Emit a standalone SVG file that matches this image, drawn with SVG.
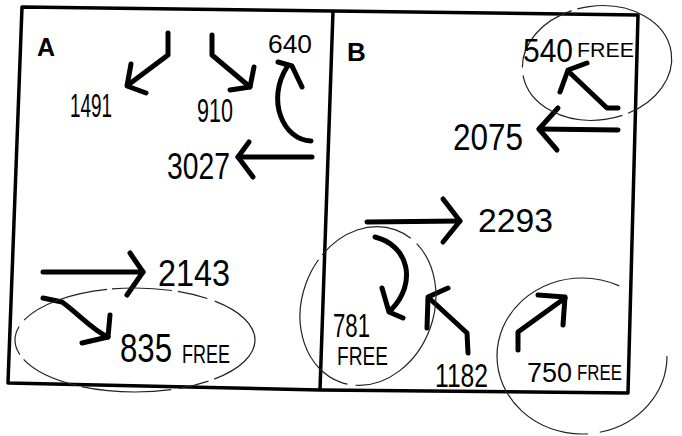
<svg xmlns="http://www.w3.org/2000/svg" width="682" height="436" viewBox="0 0 682 436">
<style>
.frame{fill:none;stroke:#000;stroke-width:3.5;stroke-linejoin:round}
.arr{fill:none;stroke:#000;stroke-width:5;stroke-linecap:round;stroke-linejoin:round}
.ring{fill:none;stroke:#222;stroke-width:1.2}
.hw{font-family:"Liberation Sans","DejaVu Sans",sans-serif;fill:#000}
.lbl{font-family:"Liberation Sans","DejaVu Sans",sans-serif;font-weight:bold;fill:#000}
</style>
<rect width="682" height="436" fill="#fff"/>
<g id="frame">
<path class="frame" d="M22,7 L333,11 L638,15 L628,393 L320,390 L8,383 Z"/>
<path class="frame" d="M333,11 L320,390"/>
</g>
<g id="panel-labels">
<text class="lbl" x="37" y="56" font-size="25">A</text>
<text class="lbl" x="347" y="61" font-size="26">B</text>
</g>
<g id="connectors">
<polyline class="arr" points="168,33 168,55 128,85"/>
<polyline class="arr" points="131,64 127,86 146,93"/>
<polyline class="arr" points="212,35 212,55 250,87"/>
<polyline class="arr" points="254,67 250,87 230,90"/>
<path class="arr" d="M311,141 C283,140 266,100 287,67"/>
<polyline class="arr" points="278,62 292,66 302,87"/>
<polyline class="arr" points="312,157 238,157"/>
<polyline class="arr" points="249,142 238,157 253,177"/>
<polyline class="arr" points="43,272 143,272"/>
<polyline class="arr" points="130,253 143,272 127,295"/>
<path class="arr" d="M43,298 L62,302 C80,315 92,330 108,337"/>
<polyline class="arr" points="110,315 108,337 82,343"/>
<polyline class="arr" points="618,108 607,108 568,71"/>
<polyline class="arr" points="560,92 568,70 587,63"/>
<polyline class="arr" points="618,130 539,129"/>
<polyline class="arr" points="558,108 539,129 557,150"/>
<polyline class="arr" points="367,222 460,221"/>
<polyline class="arr" points="443,199 460,221 443,242"/>
<path class="arr" d="M375,237 C408,245 418,282 391,310"/>
<polyline class="arr" points="382,288 389,312 403,318"/>
<polyline class="arr" points="468,353 467,333 429,298"/>
<polyline class="arr" points="427,328 428,297 448,288"/>
<polyline class="arr" points="518,350 518,332 565,298"/>
<polyline class="arr" points="538,295 565,297 563,325"/>
</g>
<g id="node-1491"><text class="hw" x="70" y="117" font-size="33" textLength="42" lengthAdjust="spacingAndGlyphs">1491</text></g>
<g id="node-910"><text class="hw" x="197" y="122" font-size="33" textLength="36" lengthAdjust="spacingAndGlyphs">910</text></g>
<g id="node-640"><text class="hw" x="268" y="53" font-size="25" textLength="44" lengthAdjust="spacingAndGlyphs">640</text></g>
<g id="node-3027"><text class="hw" x="167" y="179" font-size="36" textLength="63" lengthAdjust="spacingAndGlyphs">3027</text></g>
<g id="node-2143"><text class="hw" x="158" y="286" font-size="37" textLength="72" lengthAdjust="spacingAndGlyphs">2143</text></g>
<g id="node-835">
<ellipse class="ring" cx="135" cy="340" rx="120" ry="52" stroke-dasharray="60 6 30 8 90 5"/>
<text class="hw" x="120" y="362" font-size="40" textLength="52" lengthAdjust="spacingAndGlyphs">835</text>
<text class="hw" x="182" y="363" font-size="25" textLength="48" lengthAdjust="spacingAndGlyphs">FREE</text>
</g>
<g id="node-540">
<ellipse class="ring" cx="597" cy="63" rx="75" ry="57" transform="rotate(-8 597 63)" stroke-dasharray="80 6 120 8"/>
<text class="hw" x="523" y="62" font-size="33" textLength="50" lengthAdjust="spacingAndGlyphs">540</text>
<text class="hw" x="577" y="57" font-size="21" textLength="57" lengthAdjust="spacingAndGlyphs">FREE</text>
</g>
<g id="node-2075"><text class="hw" x="453" y="150" font-size="37" textLength="70" lengthAdjust="spacingAndGlyphs">2075</text></g>
<g id="node-2293"><text class="hw" x="478" y="232" font-size="34" textLength="75" lengthAdjust="spacingAndGlyphs">2293</text></g>
<g id="node-781">
<ellipse class="ring" cx="368" cy="306" rx="66" ry="81" transform="rotate(20 368 306)" stroke-dasharray="100 8 150 6"/>
<text class="hw" x="333" y="337" font-size="34" textLength="37" lengthAdjust="spacingAndGlyphs">781</text>
<text class="hw" x="337" y="365" font-size="25" textLength="51" lengthAdjust="spacingAndGlyphs">FREE</text>
</g>
<g id="node-1182"><text class="hw" x="435" y="387" font-size="34" textLength="53" lengthAdjust="spacingAndGlyphs">1182</text></g>
<g id="node-750">
<ellipse class="ring" cx="582" cy="356" rx="85" ry="78" stroke-dasharray="110 12 300"/>
<text class="hw" x="527" y="382" font-size="28" textLength="45" lengthAdjust="spacingAndGlyphs">750</text>
<text class="hw" x="577" y="380" font-size="22" textLength="45" lengthAdjust="spacingAndGlyphs">FREE</text>
</g>
</svg>
